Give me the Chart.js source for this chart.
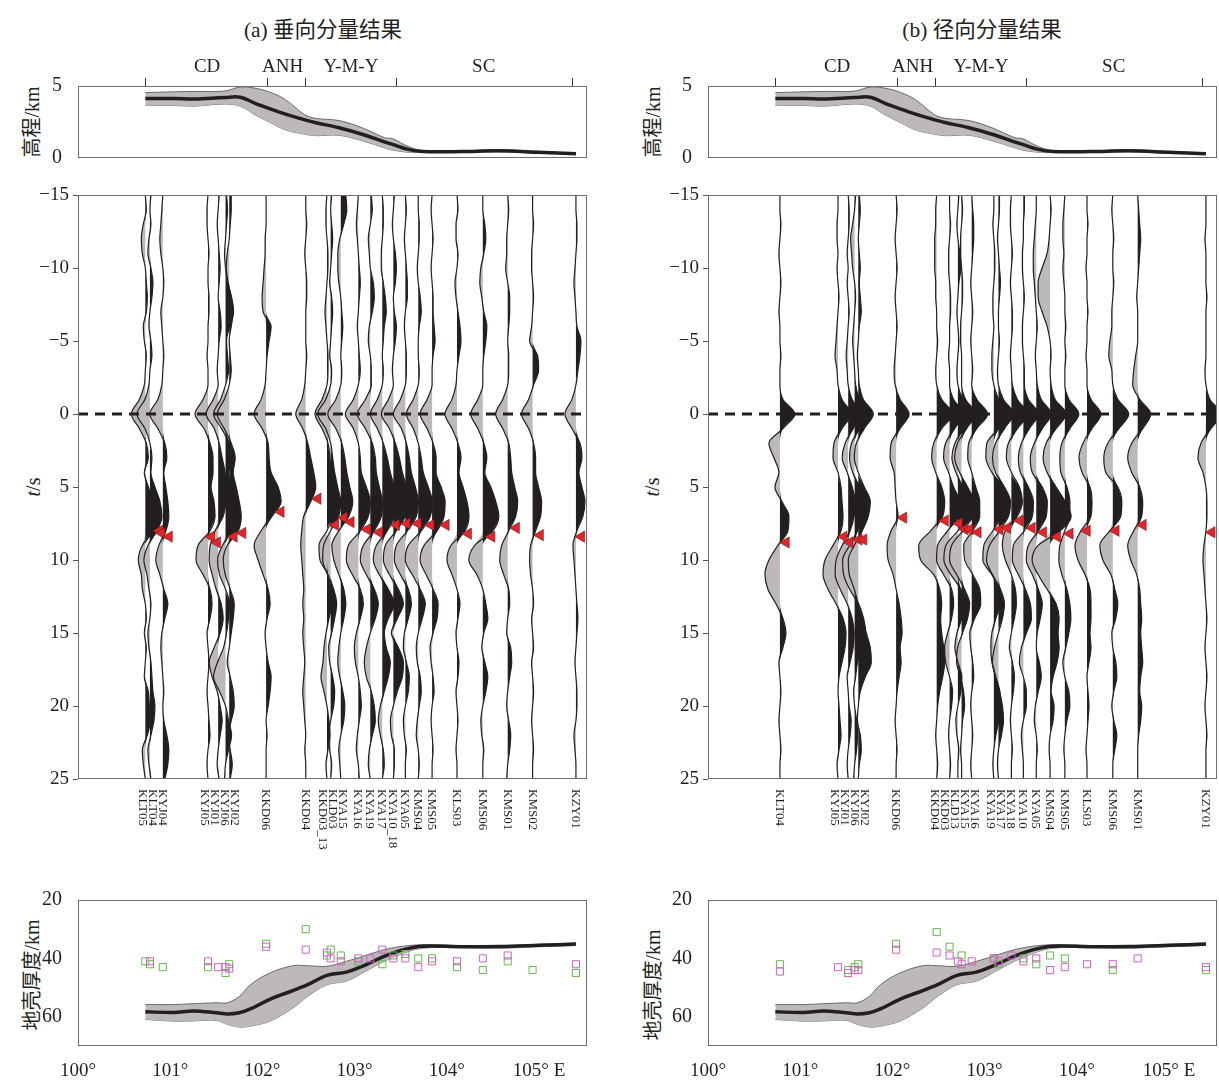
<!DOCTYPE html>
<html>
<head>
<meta charset="utf-8">
<script src="https://cdn.jsdelivr.net/npm/chart.js@4.4.1/dist/chart.umd.min.js"></script>
<style>
body { margin: 0; width: 1219px; height: 1082px; background: #fff; position: relative; overflow: hidden;
  font-family: "Liberation Serif", "Noto Sans CJK SC", serif; color: #231f20; }
.box { position: absolute; }
.title { position: absolute; font-size: 21.5px; white-space: nowrap; transform: translateX(-50%); }
.ytitle { position: absolute; font-size: 20px; white-space: nowrap; transform: translate(-50%, -50%) rotate(-90deg); }
.stn { position: absolute; top: 789px; font-size: 13px; line-height: 10px; writing-mode: vertical-rl; white-space: nowrap; }
</style>
</head>
<body>
<div class="title" style="left:323px;top:12px">(a) 垂向分量结果</div>
<div class="title" style="left:982px;top:12px">(b) 径向分量结果</div>

<div class="ytitle" style="left:30px;top:122px">高程/km</div>
<div class="ytitle" style="left:33px;top:487px"><i>t</i>/s</div>
<div class="ytitle" style="left:30px;top:975px">地壳厚度/km</div>
<div class="ytitle" style="left:651px;top:122px">高程/km</div>
<div class="ytitle" style="left:652px;top:487px"><i>t</i>/s</div>
<div class="ytitle" style="left:651px;top:985px">地壳厚度/km</div>

<div class="box" style="left:0;top:40px;width:600px;height:140px"><canvas id="elevA"></canvas></div>
<div class="box" style="left:630px;top:40px;width:600px;height:140px"><canvas id="elevB"></canvas></div>
<div class="box" style="left:0;top:180px;width:600px;height:615px"><canvas id="rfA"></canvas></div>
<div class="box" style="left:630px;top:180px;width:600px;height:615px"><canvas id="rfB"></canvas></div>
<div class="box" style="left:0;top:880px;width:600px;height:200px"><canvas id="mohoA"></canvas></div>
<div class="box" style="left:630px;top:880px;width:600px;height:200px"><canvas id="mohoB"></canvas></div>

<script>
// 时间采样 (s)
const times = [-15,-14,-13,-12,-11,-10,-9,-8,-7,-6,-5,-4,-3,-2,-1,0,1,2,3,4,5,6,7,8,9,10,11,12,13,14,15,16,17,18,19,20,21,22,23,24,25];

// (a) 垂向分量: 台站, 经度, Ps 到时
const stationsA = ['KLT05','KLT04','KYJ04','KYJ05','KYJ01','KYJ06','KYJ02','KKD06','KKD04','KKD03_13','KLD03','KYA15','KYA16','KYA19','KYA17','KYA10_18','KYA05','KMS04','KMS05','KLS03','KMS06','KMS01','KMS02','KZY01'];
const lonA = [100.73,100.78,100.92,101.41,101.52,101.60,101.64,102.04,102.47,102.70,102.74,102.85,103.04,103.17,103.30,103.42,103.55,103.69,103.84,104.11,104.39,104.66,104.93,105.40];
const psA = [8.0,8.15,8.4,8.4,8.8,8.4,8.15,6.7,5.8,7.6,7.1,7.4,7.9,8.1,7.6,7.5,7.5,7.6,7.6,8.2,8.4,7.8,8.3,8.4];

const vKLT05 = [0,1,-2,-4,-3, 0,1,2,1,-2, -1,1,0,-1,-6, -14,-6,1,3,-1, 3,8,11,8,-3, -7,-4,-3,0,1, -1,1,0,-1,3, 4,5,2,-3,-2, 0];
const vKLT04 = [1,0,1,-1,-2, 1,3,2,0,-1, 1,2,0,-1,-5, -13,-5,0,2,1, 5,10,12,7,-2, -6,-3,-1,1,0, -2,-1,1,2,3, 5,4,1,-2,-1, 1];
const vKYJ04 = [0,-1,-2,-3,-2, 0,1,0,-2,-1, 0,1,0,-1,-5, -13,-5,2,4,1, 3,5,6,3,-4, -7,-3,1,5,2, -1,-2,-1,0,1, 0,1,4,6,5, 2];
const vKYJ05 = [0,-1,-1,0,1, 0,0,1,1,0, 0,-1,0,0,-5, -13,-4,2,5,5, 3,6,7,2,-10, -12,-5,2,4,2, -1,0,1,0,-1, 0,1,2,0,-1, 0];
const vKYJ01 = [1,0,-1,0,1, 2,1,0,2,3, 1,0,-1,0,-5, -12,-4,1,4,7, 9,8,5,-3,-8, -9,-6,-2,3,5, 2,-4,-9,-6,-1, 2,4,2,0,-1, 1];
const vKYJ06 = [1,2,1,0,-1, 0,2,6,8,4, 1,2,3,0,-5, -12,-4,4,7,3, 6,9,11,6,-3, -8,-6,0,4,3, 1,-2,-8,-12,-6, 0,3,6,3,0, -1];
const vKYJ02 = [2,2,1,0,-2, -3,-1,2,4,2, 0,1,2,0,-5, -12,-5,2,6,4, 7,10,12,9,-2, -6,-4,1,5,4, 2,0,-2,1,4, 5,2,-1,1,3, 1];
const vKKD06 = [0,0,0,-1,-1, -2,-3,-4,-3,5, 3,1,0,-1,-5, -12,-4,2,3,5, 12,15,6,-5,-12, -8,-3,2,4,1, -1,0,2,5,4, 2,0,1,0,0, 0];
const vKKD04 = [0,0,1,0,-1, 0,1,1,0,0, 0,1,0,-1,-4, -10,-3,2,5,8, 10,5,-2,-4,-5, -4,-3,-2,-3,-2, -3,-2,-1,-2,-3, -2,-1,0,-1,0, 0];
const vKKD03_13 = [0,-1,-1,0,1, 1,0,-1,-2,-1, 0,1,1,0,-5, -12,-5,1,3,4, 6,8,6,0,-8, -7,1,4,5,2, -1,-3,-4,-6,-3, 0,2,3,1,-1, 0];
const vKLD03 = [1,0,1,2,1, 0,-1,1,2,1, 0,-1,1,0,-5, -13,-5,0,2,4, 7,10,8,0,-7, -8,-3,3,6,4, 1,-2,-1,2,4, 3,0,-2,-1,1, 0];
const vKYA15 = [5,6,3,-1,-3, -3,-2,0,1,2, 1,0,1,0,-5, -13,-5,1,4,6, 9,12,8,-2,-9, -7,-2,3,5,3, 0,-2,-3,-1,2, 4,3,0,-2,-1, 0];
const vKYA16 = [0,-1,-2,-1,0, 1,2,1,0,-1, 0,1,2,0,-5, -13,-5,0,2,3, 8,12,10,2,-10, -12,-6,2,5,2, -2,-4,-3,0,2, 3,1,-1,-2,0, 1];
const vKYA19 = [1,2,0,-2,-1, 0,3,4,2,-1, -2,0,1,1,-5, -13,-5,2,5,6, 9,12,11,4,-7, -10,-4,4,8,5, 0,-4,-6,-4,1, 4,5,2,-1,-2, 0];
const vKYA17 = [0,1,1,0,-1, -1,1,3,4,2, 1,0,1,0,-5, -12,-5,1,5,8, 12,14,12,5,-6, -9,-3,6,12,6, 2,4,8,6,2, -2,-4,-2,1,2, 0];
const vKYA10_18 = [1,0,-1,0,2, 3,2,0,1,3, 2,0,-1,0,-5, -12,-4,2,6,9, 13,15,12,3,-8, -10,-4,5,10,4, -2,5,10,9,4, 0,-3,-2,1,1, 0];
const vKYA05 = [0,1,0,-1,0, 1,2,2,0,-1, 0,1,1,0,-5, -12,-4,1,4,6, 10,13,11,2,-9, -11,-5,3,6,3, -1,-2,1,4,3, 0,-2,-1,1,0, 0];
const vKMS04 = [0,0,1,1,0, -1,0,2,3,1, 0,0,1,0,-5, -12,-5,0,3,5, 10,14,12,3,-10, -13,-6,2,7,4, 0,-2,-1,2,3, 1,-1,-2,0,1, 0];
const vKMS05 = [0,-1,0,1,0, -1,0,1,1,2, 3,1,0,0,-5, -12,-5,1,4,4, 9,13,12,5,-8, -12,-6,1,6,5, 1,-2,-1,1,2, 0,-1,0,1,0, 0];
const vKLS03 = [0,1,-1,-1,1, 0,-2,-1,1,3, 4,2,0,-1,-5, -12,-5,1,4,2, 6,10,12,8,-6, -10,-5,0,3,1, -1,0,2,1,-1, 0,1,0,-1,0, 0];
const vKMS06 = [0,0,2,3,1, -2,-3,-1,1,4, 3,1,0,0,-5, -12,-5,1,4,2, 8,13,16,10,-8, -14,-6,0,3,5, 1,-1,2,5,3, 0,-2,-1,1,0, 0];
const vKMS01 = [0,1,0,-1,-1, -2,0,2,2,1, 0,1,1,0,-5, -12,-5,1,3,4, 7,10,8,1,-6, -8,-4,1,2,0, -1,3,4,2,0, -1,1,3,2,0, -1];
const vKMS02 = [0,0,1,0,-1, -1,0,1,0,-1, -3,5,6,1,-4, -11,-4,1,3,3, 6,9,8,3,-2, -3,-2,0,1,-1, 0,1,-1,0,1, 0,-1,0,1,0, 0];
const vKZY01 = [0,0,1,1,0, -1,-2,-1,0,1, 5,4,2,0,-4, -11,-4,4,6,3, 6,9,7,1,-3, -2,-1,0,1,2, 1,0,-1,0,1, 1,0,-2,-1,0, 0];
const tracesA = [vKLT05,vKLT04,vKYJ04,vKYJ05,vKYJ01,vKYJ06,vKYJ02,vKKD06,vKKD04,vKKD03_13,vKLD03,vKYA15,vKYA16,vKYA19,vKYA17,vKYA10_18,vKYA05,vKMS04,vKMS05,vKLS03,vKMS06,vKMS01,vKMS02,vKZY01];

// (b) 径向分量
const stationsB = ['KLT04','KYJ05','KYJ01','KYJ06','KYJ02','KKD06','KKD04','KKD03','KLD13','KYA15','KYA16','KYA19','KYA17','KYA18','KYA10','KYA05','KMS04','KMS05','KLS03','KMS06','KMS01','KZY01'];
const lonB = [100.78,101.41,101.52,101.59,101.63,102.04,102.48,102.62,102.71,102.75,102.86,103.10,103.15,103.29,103.42,103.56,103.71,103.87,104.11,104.39,104.66,105.40];
const psB = [8.8,8.4,8.8,8.6,8.6,7.1,7.3,7.5,7.9,7.9,8.1,7.9,7.8,7.3,7.8,8.1,8.4,8.2,8.0,8.0,7.6,8.1];

const rKLT04 = [0,0,1,0,-1, 0,1,0,-1,0, 0,1,0,0,3, 15,3,-11,-6,-1, -5,2,9,8,-2, -11,-15,-12,-4,3, 6,3,-1,0,1, 0,-1,0,1,0, 0];
const rKYJ05 = [0,0,-1,-1,0, -1,0,1,0,-1, -2,-3,-1,0,4, 13,4,-4,-5,0, 3,4,5,3,-5, -13,-15,-10,-2,5, 8,7,4,1,0, 1,2,3,1,-1, 0];
const rKYJ01 = [0,1,1,0,-1, 0,-1,0,1,0, -1,-2,-1,0,4, 13,5,-3,-6,-1, 4,7,6,2,-6, -12,-13,-8,-1,4, 6,5,2,-1,0, 1,3,2,0,-1, 0];
const rKYJ06 = [1,0,-2,-4,-3, -2,0,1,0,-1, -2,-1,0,1,5, 14,5,-3,-5,-2, 5,10,8,3,-5, -12,-11,-5,4,9, 11,8,3,1,-1, 0,2,3,2,0, -1];
const rKYJ02 = [1,2,1,0,1, 2,1,2,3,1, 0,-1,0,1,5, 15,6,-2,-4,0, 6,12,10,4,-4, -10,-9,-4,0,4, 8,12,13,7,2, 0,-1,2,3,1, 0];
const rKKD06 = [0,1,0,-1,0, 1,0,-1,0,1, 0,-1,-2,-1,4, 13,4,-5,-6,-2, -1,0,2,-5,-9, -8,-3,0,3,5, 6,4,5,3,1, 0,-1,0,1,0, 0];
const rKKD04 = [0,-1,-1,-2,-2, -2,-1,-1,0,0, 1,0,-1,0,5, 16,5,-3,-5,-1, 5,8,6,-6,-18, -16,-3,3,5,4, 5,7,8,6,3, 1,0,-1,0,1, 0];
const rKKD03 = [0,0,1,0,-1, -1,0,1,1,0, 0,-1,0,0,4, 14,5,-4,-6,-1, 4,10,9,-2,-12, -13,-6,2,4,2, -2,-5,-4,0,3, 2,0,-1,0,1, 0];
const rKLD13 = [1,0,-1,0,2, 3,1,0,-1,0, 1,0,-1,0,5, 15,6,-3,-6,-2, 5,11,10,0,-12, -14,-7,3,7,4, -1,-3,0,4,3, 0,-2,-1,1,0, 0];
const rKYA15 = [0,1,0,-1,-1, 0,1,1,0,-1, -1,0,0,0,4, 14,5,-4,-7,-2, 6,12,11,1,-10, -12,-5,3,8,6, 1,-4,-5,-1,2, 3,1,0,-1,0, 0];
const rKYA16 = [0,1,2,2,1, 0,-1,0,1,0, -1,0,1,0,5, 16,5,-3,-4,0, 4,8,8,1,-8, -7,1,8,9,3, -2,-1,1,2,0, -1,0,1,0,-1, 0];
const rKYA19 = [0,0,-1,0,1, 1,0,-1,-1,0, -1,-2,-2,0,5, 15,5,-7,-8,-2, 9,12,8,-1,-10, -11,-2,5,6,2, -2,-3,-2,2,6, 7,5,2,0,-1, 0];
const rKYA17 = [1,1,0,-1,0, 1,2,1,0,0, 1,0,-1,0,5, 15,6,-3,-6,-3, 6,12,10,1,-9, -12,-6,2,6,4, 0,-4,-6,-3,1, 4,5,3,0,-1, 0];
const rKYA18 = [0,-1,-1,0,1, 0,-1,0,1,1, 0,-1,0,1,6, 16,6,-3,-5,0, 8,11,6,-6,-9, -6,0,4,5,3, 0,-2,1,3,2, 0,-1,0,1,0, 0];
const rKYA10 = [1,1,0,0,-1, -1,0,1,0,-1, -1,0,1,1,5, 15,6,-2,-5,-3, 5,10,9,1,-10, -11,-5,2,7,8, 3,-2,-4,0,3, 3,0,-2,-1,0, 0];
const rKYA05 = [0,0,-1,-2,-3, -3,-2,-1,0,1, 0,-1,0,1,5, 15,6,-2,-6,-4, 6,11,10,2,-8, -10,-4,2,6,4, 1,0,3,5,2, -1,-2,0,1,0, 0];
const rKMS04 = [0,1,0,-1,-3, -8,-12,-12,-8,-3, 0,1,0,1,5, 16,6,-4,-7,-3, 6,15,21,10,-12, -18,-12,-3,6,9, 8,9,7,3,1, 4,3,0,-1,0, 0];
const rKMS05 = [0,-1,-2,-2,-1, -2,-1,0,0,1, 0,1,0,0,4, 14,5,-3,-5,-4, 2,5,5,0,-5, -6,-3,2,5,6, 4,1,-2,0,4, 5,2,0,-1,0, 0];
const rKLS03 = [0,0,1,0,0, -1,0,0,1,0, 0,-1,0,0,4, 14,5,-4,-8,-5, 3,5,4,-6,-12, -9,-2,3,4,4, 3,4,2,0,1, 2,1,0,-1,0, 0];
const rKMS06 = [0,-1,0,1,0, 0,1,0,-1,-1, -3,-4,-1,0,5, 16,6,-5,-9,-7, 5,9,8,-3,-13, -10,-2,2,5,3, -1,0,3,4,1, -1,1,4,2,0, 0];
const rKMS01 = [0,1,2,3,2, 1,0,-1,0,0, 0,-2,-4,-5,2, 13,5,-6,-10,-6, 2,5,4,-4,-10, -7,-1,2,3,4, 3,4,5,3,2, 4,3,1,0,0, 0];
const rKZY01 = [0,0,0,-1,0, 0,0,1,0,0, 0,0,-1,0,4, 15,5,-5,-8,-3, 0,1,1,0,-2, -3,-2,-1,0,1, 0,-1,0,1,0, -1,0,1,0,0, 0];
const tracesB = [rKLT04,rKYJ05,rKYJ01,rKYJ06,rKYJ02,rKKD06,rKKD04,rKKD03,rKLD13,rKYA15,rKYA16,rKYA19,rKYA17,rKYA18,rKYA10,rKYA05,rKMS04,rKMS05,rKLS03,rKMS06,rKMS01,rKZY01];

// 地形剖面 (km)
const elevLon  = [100.73,101.05,101.26,101.59,101.76,101.92,102.09,102.25,102.46,102.58,102.83,103.08,103.33,103.41,103.58,103.74,104.16,104.57,104.99,105.40];
const elevMean = [4.13,4.13,4.10,4.20,4.22,3.80,3.40,3.05,2.65,2.45,2.10,1.65,1.10,0.95,0.60,0.45,0.45,0.50,0.40,0.30];
const elevHigh = [4.54,4.60,4.62,4.65,4.93,4.85,4.55,4.05,3.00,2.75,2.60,2.10,1.40,1.35,0.80,0.52,0.50,0.56,0.46,0.34];
const elevLow  = [3.67,3.65,3.60,3.75,3.60,3.00,2.45,1.95,1.65,1.55,1.58,1.20,0.70,0.55,0.40,0.38,0.40,0.43,0.35,0.27];

// 构造单元
const groupEdges = [100.73,102.05,102.47,103.45,105.36];
const groupMid = [101.4,102.22,102.96,104.4];
const groupNames = ['CD','ANH','Y-M-Y','SC'];

// 地壳厚度 (km)
const mohoLon     = [100.73,101.04,101.25,101.50,101.62,101.75,101.87,102.08,102.33,102.49,102.70,102.91,103.12,103.32,103.53,103.74,104.15,104.57,105.00,105.40];
const mohoMean    = [58.3,58.5,58.0,58.6,59.0,58.6,57.3,54.0,51.0,49.0,45.8,44.7,42.2,39.3,37.0,35.8,36.0,35.9,35.5,35.1];
const mohoShallow = [55.8,55.8,55.5,55.2,55.2,53.0,49.0,45.0,42.5,42.5,42.7,41.0,39.0,37.0,35.8,35.3,35.6,35.7,35.2,34.8];
const mohoDeep    = [60.9,61.5,61.4,61.2,62.6,63.5,63.2,61.5,57.0,53.0,49.0,47.8,44.4,41.0,38.2,36.5,36.3,36.5,36.0,35.6];

// 前人结果 (绿色/紫色方块)
const greenA = [41,42,43,43,null,45,42,35,30,39,37,39,41,null,42,39,38.5,40,40,43,44,41,44,45];
const pinkA  = [null,41,null,41,43,43,43.5,36,37,38,40,41,40,40,37,40,40,43,41,41,40,39,null,42];
const greenB = [42,null,44,43,42,35,31,36,null,39,null,40,42,null,40,42,39,40,null,44,null,44];
const pinkB  = [44.5,43,45,44,44,37,38,39,41,42,41,40,41,39,41,40,44,43,42,42,40,43];

const lonTicks = [100,101,102,103,104,105];
const timeTicks = [-15,-10,-5,0,5,10,15,20,25];

const GRAY = '#bdb9b9', BLACK = '#231f20', RED = '#e3252b';
const LONMIN = 100, LONMAX = 105.52;
const AMP = 1 / 92.2; // 振幅单位 -> 经度

Chart.defaults.font.family = '"Liberation Serif", "Noto Sans CJK SC", serif';
Chart.defaults.color = BLACK;

const frame = {
  id: 'frame',
  afterDatasetsDraw(chart) {
    const {ctx, chartArea: a} = chart;
    ctx.save();
    ctx.strokeStyle = '#6d6e71';
    ctx.lineWidth = 1;
    ctx.strokeRect(Math.round(a.left) + 0.5, Math.round(a.top) + 0.5, Math.round(a.right - a.left) - 1, Math.round(a.bottom - a.top) - 1);
    ctx.restore();
  }
};

function pts(xs, ys) {
  return xs.map((x, i) => ({x: x, y: ys[i]})).filter(p => p.y !== null);
}

function ampAt(tr, t) {
  const i = Math.floor(t - times[0]);
  const f = t - times[i];
  return tr[i] * (1 - f) + tr[i + 1] * f;
}

// 固定坐标轴宽度, 不让刻度文字挤占绘图区
function fixY(s) { s.width = 78; s.paddingTop = 0; s.paddingBottom = 0; }
function fixX(h) { return s => { s.height = h; s.paddingLeft = 0; s.paddingRight = 0; }; }

function yAxis(opts) {
  return Object.assign({
    type: 'linear',
    afterFit: fixY,
    border: {display: false},
    grid: {display: false},
    ticks: {font: {size: 20}, padding: 8}
  }, opts);
}

const common = {
  responsive: true,
  maintainAspectRatio: false,
  animation: false,
  events: [],
  plugins: {legend: {display: false}, tooltip: {enabled: false}}
};

function elevChart(id) {
  return new Chart(document.getElementById(id), {
    type: 'line',
    data: {datasets: [
      {data: pts(elevLon, elevHigh), borderColor: '#4d4d4f', borderWidth: 0.8, backgroundColor: GRAY, fill: '+1', order: 2},
      {data: pts(elevLon, elevLow), borderColor: '#4d4d4f', borderWidth: 0.8, fill: false, order: 2},
      {data: pts(elevLon, elevMean), borderColor: BLACK, borderWidth: 3.5, fill: false, order: 1}
    ]},
    options: Object.assign({}, common, {
      layout: {autoPadding: false, padding: {right: 13, bottom: 22}},
      elements: {point: {radius: 0}, line: {tension: 0.35}},
      scales: {
        x: {
          type: 'linear', position: 'top', min: LONMIN, max: LONMAX,
          afterFit: fixX(46),
          afterBuildTicks: s => { s.ticks = groupEdges.concat(groupMid).sort((a, b) => a - b).map(v => ({value: v})); },
          border: {display: false},
          grid: {drawOnChartArea: false, tickLength: 8, tickWidth: 1,
            tickColor: c => (c.tick && groupMid.indexOf(c.tick.value) >= 0) ? 'rgba(0,0,0,0)' : '#333'},
          ticks: {autoSkip: false, maxRotation: 0, padding: 0, font: {size: 19},
            callback: v => { const i = groupMid.indexOf(v); return i >= 0 ? groupNames[i] : ''; }}
        },
        y: yAxis({min: 0, max: 5, afterBuildTicks: s => { s.ticks = [{value: 0}, {value: 5}]; }})
      }
    }),
    plugins: [frame]
  });
}

function traceChart(id, lons, traces, ps) {
  const sets = [];
  traces.forEach((tr, k) => {
    const lon = lons[k];
    const mk = f => tr.map((a, i) => ({x: lon + f(a) * AMP, y: times[i]}));
    sets.push({data: mk(a => Math.min(a, 0)), fill: {value: lon}, backgroundColor: GRAY, borderWidth: 0, order: 3});
    sets.push({data: mk(a => Math.max(a, 0)), fill: {value: lon}, backgroundColor: BLACK, borderWidth: 0, order: 1});
    sets.push({data: mk(a => a), fill: false, borderColor: BLACK, borderWidth: 1.2, order: 0});
  });
  sets.push({data: [{x: LONMIN, y: 0}, {x: LONMAX, y: 0}], borderColor: BLACK, borderWidth: 2.8,
    borderDash: [10, 7], tension: 0, cubicInterpolationMode: 'default', fill: false, order: 2});
  sets.push({data: ps.map((t, k) => ({x: lons[k] + (ampAt(traces[k], t) + 6) * AMP, y: t})),
    showLine: false, pointStyle: 'triangle', pointRotation: 270, pointRadius: 6.5,
    pointBackgroundColor: RED, pointBorderColor: '#6b1a1a', pointBorderWidth: 0.6, order: -1});
  return new Chart(document.getElementById(id), {
    type: 'line',
    data: {datasets: sets},
    options: Object.assign({}, common, {
      indexAxis: 'y',
      layout: {autoPadding: false, padding: {top: 15, bottom: 16, right: 13}},
      elements: {point: {radius: 0}, line: {cubicInterpolationMode: 'monotone'}},
      scales: {
        x: {type: 'linear', min: LONMIN, max: LONMAX, display: false},
        y: yAxis({
          reverse: true, min: -15, max: 25,
          afterBuildTicks: s => { s.ticks = timeTicks.map(v => ({value: v})); },
          grid: {drawOnChartArea: false, tickLength: 5, color: '#555'},
          ticks: {font: {size: 19}, padding: 4, callback: v => v < 0 ? '\u2212' + Math.abs(v) : String(v)}
        })
      }
    }),
    plugins: [frame]
  });
}

function mohoChart(id, lons, green, pink) {
  return new Chart(document.getElementById(id), {
    type: 'line',
    data: {datasets: [
      {data: pts(lons, pink), showLine: false, pointStyle: 'rect', pointRadius: 5, pointBorderWidth: 1,
        pointBorderColor: '#d25fc4', pointBackgroundColor: 'rgba(0,0,0,0)', order: 0},
      {data: pts(lons, green), showLine: false, pointStyle: 'rect', pointRadius: 5, pointBorderWidth: 1,
        pointBorderColor: '#62b94a', pointBackgroundColor: 'rgba(0,0,0,0)', order: 0},
      {data: pts(mohoLon, mohoShallow), borderColor: '#4d4d4f', borderWidth: 0.8, backgroundColor: GRAY, fill: '+1', order: 2},
      {data: pts(mohoLon, mohoDeep), borderColor: '#4d4d4f', borderWidth: 0.8, fill: false, order: 2},
      {data: pts(mohoLon, mohoMean), borderColor: BLACK, borderWidth: 3.5, fill: false, order: 1}
    ]},
    options: Object.assign({}, common, {
      layout: {autoPadding: false, padding: {top: 20, right: 13}},
      elements: {point: {radius: 0}, line: {tension: 0.35}},
      scales: {
        x: {
          type: 'linear', min: LONMIN, max: LONMAX,
          afterFit: fixX(34),
          afterBuildTicks: s => { s.ticks = lonTicks.map(v => ({value: v})); },
          border: {display: false},
          grid: {display: false},
          ticks: {autoSkip: false, maxRotation: 0, padding: 6, font: {size: 19},
            callback: v => v === 105 ? '105\u00b0 E' : v + '\u00b0'}
        },
        y: yAxis({reverse: true, min: 20, max: 70, afterBuildTicks: s => { s.ticks = [20, 40, 60].map(v => ({value: v})); }})
      }
    }),
    plugins: [frame]
  });
}

// 台站名排布: 相邻过近时成组居中
function spread(px, gap) {
  let groups = px.map(p => ({start: p, n: 1, sum: p}));
  let changed = true;
  while (changed) {
    changed = false;
    for (let i = 0; i < groups.length - 1; i++) {
      const a = groups[i], b = groups[i + 1];
      if (a.start + a.n * gap > b.start) {
        const n = a.n + b.n, sum = a.sum + b.sum;
        groups.splice(i, 2, {n: n, sum: sum, start: sum / n - (n - 1) * gap / 2});
        changed = true;
        break;
      }
    }
  }
  const out = [];
  groups.forEach(g => { for (let j = 0; j < g.n; j++) out.push(g.start + j * gap); });
  return out;
}

function stationLabels(chart, names, lons) {
  const xs = chart.scales.x;
  const off = chart.canvas.parentNode.offsetLeft;
  const pos = spread(lons.map(v => xs.getPixelForValue(v)), 10);
  names.forEach((n, i) => {
    const d = document.createElement('div');
    d.className = 'stn';
    d.textContent = n;
    d.style.left = (off + pos[i] - 5) + 'px';
    document.body.appendChild(d);
  });
}

elevChart('elevA');
elevChart('elevB');
const rfA = traceChart('rfA', lonA, tracesA, psA);
const rfB = traceChart('rfB', lonB, tracesB, psB);
mohoChart('mohoA', lonA, greenA, pinkA);
mohoChart('mohoB', lonB, greenB, pinkB);
stationLabels(rfA, stationsA, lonA);
stationLabels(rfB, stationsB, lonB);
</script>
</body>
</html>
